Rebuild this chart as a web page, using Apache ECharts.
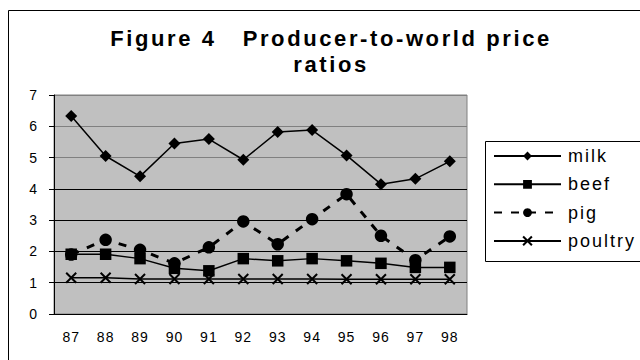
<!DOCTYPE html>
<html>
<head>
<meta charset="utf-8">
<script src="https://cdn.jsdelivr.net/npm/echarts@6/dist/echarts.min.js"></script>
<style>
  html, body { margin: 0; padding: 0; background: #fff; }
  #chart { width: 640px; height: 360px; }
</style>
</head>
<body>
<div id="chart"></div>
<script>
// Producer-to-world price ratios, 1987-1998
const years = ['87', '88', '89', '90', '91', '92', '93', '94', '95', '96', '97', '98'];
const milk = [6.33, 5.05, 4.40, 5.45, 5.59, 4.93, 5.82, 5.88, 5.07, 4.15, 4.32, 4.88];
const beef = [1.91, 1.91, 1.77, 1.46, 1.38, 1.77, 1.70, 1.77, 1.70, 1.62, 1.49, 1.49];
const pig = [1.90, 2.37, 2.05, 1.62, 2.13, 2.96, 2.23, 3.03, 3.83, 2.50, 1.72, 2.48];
const poultry = [1.16, 1.16, 1.12, 1.12, 1.12, 1.12, 1.12, 1.12, 1.11, 1.11, 1.11, 1.11];

const FONT = '"Liberation Sans", Arial, sans-serif';
const crossPath = 'path://M0,0L10,10M10,0L0,10';

// Extra tracking per text size (title, legend, axis labels)
const TRACKING = { 22: 2.6, 18: 2, 14: 1 };

const chart = echarts.init(document.getElementById('chart'), null, { renderer: 'svg' });

const titleText = { fontFamily: FONT, fontSize: 22, lineHeight: 22, fontWeight: 'bold', color: '#000' };

chart.setOption({
  animation: false,
  backgroundColor: '#fff',
  textStyle: { fontFamily: FONT, color: '#000' },
  title: [
    {
      text: 'Figure 4   Producer-to-world price',
      left: 331, top: 27.5, textAlign: 'center', padding: 0,
      textStyle: titleText
    },
    {
      text: 'ratios',
      left: 331, top: 53, textAlign: 'center', padding: 0,
      textStyle: titleText
    }
  ],
  graphic: [
    {
      type: 'rect', z: -1,
      shape: { x: 8.5, y: 10.5, width: 700, height: 400 },
      style: { fill: 'none', stroke: '#000', lineWidth: 1 }
    },
    {
      type: 'rect', z: 0,
      shape: { x: 485.5, y: 141.5, width: 200, height: 120 },
      style: { fill: '#fff', stroke: '#000', lineWidth: 1 }
    }
  ],
  legend: {
    orient: 'vertical',
    left: 493, top: 147, padding: 0,
    itemWidth: 67, itemHeight: 11, itemGap: 10.3,
    z: 5,
    textStyle: { fontFamily: FONT, fontSize: 18, color: '#000', padding: [0, 0, 0, 2] },
    data: ['milk', 'beef', 'pig', 'poultry']
  },
  grid: {
    left: 54, top: 95, right: 173, bottom: 46,
    show: true, backgroundColor: '#c0c0c0', borderColor: '#808080', borderWidth: 1
  },
  xAxis: {
    type: 'category',
    data: years,
    boundaryGap: true,
    axisLine: { lineStyle: { color: '#000', width: 1 } },
    axisTick: { interval: 0, length: 4, lineStyle: { color: '#000' } },
    axisLabel: { fontFamily: FONT, fontSize: 14, color: '#000', margin: 16, interval: 0 },
    splitLine: { show: false }
  },
  yAxis: {
    type: 'value',
    min: 0, max: 7, interval: 1,
    axisLine: { show: true, lineStyle: { color: '#000', width: 1 } },
    axisTick: { show: true, length: 5, lineStyle: { color: '#000' } },
    axisLabel: { fontFamily: FONT, fontSize: 14, color: '#000', margin: 16 },
    splitLine: {
      show: true,
      lineStyle: {
        color: ['#000', '#000', '#000', '#000', '#000', '#808080', '#808080', '#808080'],
        width: 1
      }
    }
  },
  series: [
    {
      name: 'milk', type: 'line', data: milk,
      symbol: 'diamond', symbolSize: 12,
      lineStyle: { color: '#000', width: 1.5 },
      itemStyle: { color: '#000' }
    },
    {
      name: 'beef', type: 'line', data: beef,
      symbol: 'rect', symbolSize: 11.5,
      lineStyle: { color: '#000', width: 1.5 },
      itemStyle: { color: '#000' }
    },
    {
      name: 'pig', type: 'line', data: pig,
      symbol: 'circle', symbolSize: 12.5,
      lineStyle: { color: '#000', width: 3, type: [8, 9] },
      itemStyle: { color: '#000' }
    },
    {
      name: 'poultry', type: 'line', data: poultry,
      symbol: crossPath, symbolSize: 10,
      lineStyle: { color: '#000', width: 1.5 },
      itemStyle: { color: '#000', borderColor: '#000', borderWidth: 2 }
    }
  ]
});

// Open up the letter spacing of the rendered SVG text
function applyTracking() {
  document.querySelectorAll('#chart svg text').forEach(function (t) {
    const size = Math.round(parseFloat(getComputedStyle(t).fontSize));
    if (TRACKING[size] != null) {
      t.setAttribute('letter-spacing', TRACKING[size]);
    }
  });
}
chart.on('finished', applyTracking);
applyTracking();
setTimeout(applyTracking, 0);
</script>
</body>
</html>
